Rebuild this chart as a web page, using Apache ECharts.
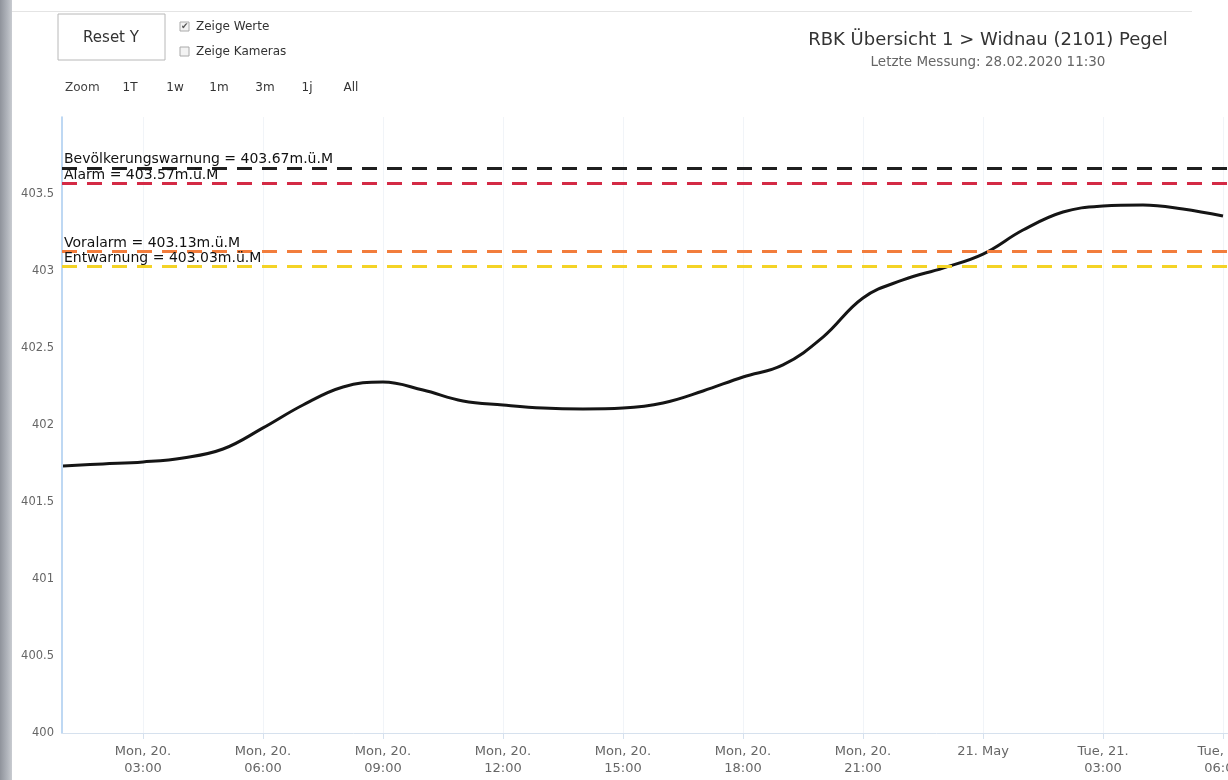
<!DOCTYPE html>
<html>
<head>
<meta charset="utf-8">
<script src="https://cdn.jsdelivr.net/npm/echarts@6/dist/echarts.min.js"></script>
<style>
html,body{margin:0;padding:0;background:#fff;}
#chart{width:1228px;height:780px;}
</style>
</head>
<body>
<div id="chart"></div>
<script>
// ---- data ----
const titleText = 'RBK Übersicht 1 > Widnau (2101) Pegel';
const subtitleText = 'Letzte Messung: 28.02.2020 11:30';
// hours since Mon 20 May 2019 00:00
const hours = [1,2,3,4,5,6,7,8,9,10,11,12,13,14,15,16,17,18,19,20,21,22,23,24,25,26,27,28,29,30];
const levels = [401.734,401.747,401.760,401.786,401.844,401.981,402.130,402.247,402.279,402.227,402.156,402.130,402.110,402.104,402.110,402.143,402.221,402.312,402.390,402.571,402.825,402.942,403.019,403.110,403.266,403.383,403.422,403.429,403.403,403.357];
const tickHours = [3,6,9,12,15,18,21,24,27,30];
const thresholdNames = ['Bevölkerungswarnung','Alarm','Voralarm','Entwarnung'];
const thresholdValues = [403.67,403.57,403.13,403.03];
const thresholdColors = ['#1f1f1f','#d42a45','#f27d3c','#f4d326'];
const zoomButtons = ['1T','1w','1m','3m','1j','All'];
const zoomButtonX = [130,175,219,265,307,351];

const weekdays = ['Sun','Mon','Tue','Wed','Thu','Fri','Sat'];
const months = ['Jan','Feb','Mar','Apr','May','Jun','Jul','Aug','Sep','Oct','Nov','Dec'];
const base = new Date(2019,4,20,0,0,0);
const seriesData = hours.map((h,i)=>[h, levels[i]]);

const font = 'DejaVu Sans, Verdana, sans-serif';
const chart = echarts.init(document.getElementById('chart'), null, {renderer:'canvas'});

const markData = thresholdValues.map((v,i)=>({
  yAxis: v,
  lineStyle: {color: thresholdColors[i], type: [15,10], width: 3},
  label: {formatter: thresholdNames[i] + ' = ' + v.toFixed(2) + 'm.ü.M'}
}));

const graphic = [
  {type:'rect', shape:{x:0,y:0,width:12,height:780}, style:{fill:new echarts.graphic.LinearGradient(0,0,1,0,[{offset:0,color:'#8f939b'},{offset:0.6,color:'#b0b4bb'},{offset:1,color:'#c9ccd1'}])}, z:100},
  {type:'rect', shape:{x:12,y:11,width:1180,height:1}, style:{fill:'#e4e4e4'}},
  {type:'rect', shape:{x:58,y:14,width:107,height:46}, style:{fill:'#fff', stroke:'#b8b8b8', lineWidth:1}},
  {type:'text', style:{x:111,y:38,text:'Reset Y', font:'15px '+font, fill:'#333', align:'center', verticalAlign:'middle'}},
  {type:'rect', shape:{x:180,y:22,width:9,height:9}, style:{fill:'#f3f3f3', stroke:'#aaa', lineWidth:1}},
  {type:'text', style:{x:181,y:26.5,text:'✔', font:'9px DejaVu Sans', fill:'#555', verticalAlign:'middle'}},
  {type:'text', style:{x:196,y:27,text:'Zeige Werte', font:'12px '+font, fill:'#333', verticalAlign:'middle'}},
  {type:'rect', shape:{x:180,y:47,width:9,height:9}, style:{fill:'#f3f3f3', stroke:'#aaa', lineWidth:1}},
  {type:'text', style:{x:196,y:52,text:'Zeige Kameras', font:'12px '+font, fill:'#333', verticalAlign:'middle'}},
  {type:'text', style:{x:65,y:88,text:'Zoom', font:'12px '+font, fill:'#444', verticalAlign:'middle'}},
  {type:'text', style:{x:988,y:40,text:titleText, font:'18px '+font, fill:'#333', align:'center', verticalAlign:'middle'}},
  {type:'text', style:{x:988,y:62,text:subtitleText, font:'13.5px '+font, fill:'#666', align:'center', verticalAlign:'middle'}}
];
zoomButtons.forEach((b,i)=>{
  graphic.push({type:'text', style:{x:zoomButtonX[i],y:88,text:b, font:'12px '+font, fill:'#333', align:'center', verticalAlign:'middle'}});
});

function fmtHour(h){
  const d = new Date(base.getTime() + h*3600*1000);
  const hh = String(d.getHours()).padStart(2,'0');
  const mm = String(d.getMinutes()).padStart(2,'0');
  if (d.getHours()===0 && d.getMinutes()===0) return d.getDate() + '. ' + months[d.getMonth()];
  return weekdays[d.getDay()] + ', ' + d.getDate() + '.\n' + hh + ':' + mm;
}

chart.setOption({
  animation:false,
  backgroundColor:'#fff',
  textStyle:{fontFamily:font},
  grid:{left:62, right:0, top:117, bottom:47, containLabel:false, outerBoundsMode:'none'},
  xAxis:{
    type:'value',
    min: 0.975,
    max: 30.125,
    axisLine:{show:true, lineStyle:{color:'#d6e1ee', width:1}},
    axisTick:{show:true, length:6, lineStyle:{color:'#d6e1ee'}, customValues: tickHours},
    splitLine:{show:true, lineStyle:{color:'#f1f4f8', width:1}},
    axisLabel:{
      color:'#666', fontSize:13, lineHeight:17, margin:10,
      customValues: tickHours,
      formatter:function(v){ return fmtHour(v); }
    }
  },
  yAxis:{
    type:'value',
    min:400, max:404, interval:0.5,
    axisLine:{show:true, lineStyle:{color:'#a9cbef', width:1.5}},
    axisTick:{show:false},
    splitLine:{show:false},
    axisLabel:{color:'#666', fontSize:11.5, margin:8, showMaxLabel:false,
      formatter:function(v){ return v===404 ? '' : String(v); }}
  },
  graphic: graphic,
  series:[{
    type:'line',
    data: seriesData,
    smooth:0.4,
    symbol:'none',
    lineStyle:{color:'#151515', width:3},
    markLine:{
      silent:true,
      symbol:['none','none'],
      label:{show:true, position:'insideStartTop', distance:[2,1], color:'#111', fontSize:14, fontFamily:font},
      data: markData
    }
  }]
});
</script>
</body>
</html>
